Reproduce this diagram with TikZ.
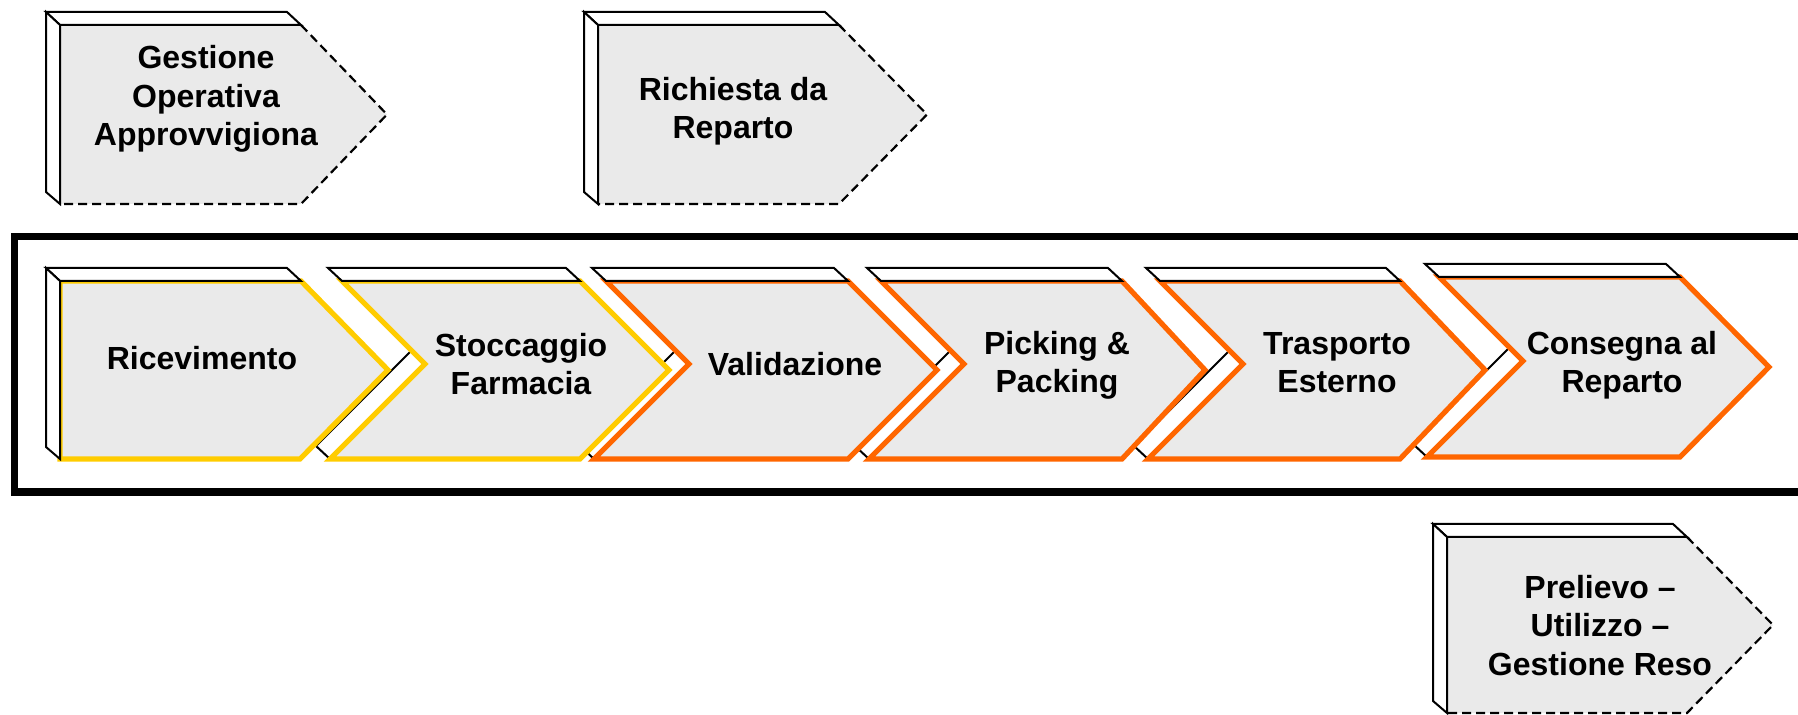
\documentclass[tikz,border=0pt]{standalone}
\usepackage{fontspec}
\setmainfont{Liberation Sans}
\definecolor{cyel}{RGB}{255,204,0}
\definecolor{corg}{RGB}{255,102,0}
\definecolor{cgray}{RGB}{234,234,234}
\tikzset{
  frontface/.style={fill=cgray,line width=2.6pt,line join=miter},
  stripface/.style={fill=white,draw=black,line width=1pt,line join=miter},
  dashedge/.style={draw=black,line width=1.1pt,dash pattern=on 4.5pt off 2.5pt},
  lbl/.style={font=\bfseries\fontsize{16}{19.25}\selectfont,align=center,anchor=base,inner sep=0pt},
  frameline/.style={draw=black,line width=3.6pt}
}
% #1 TL x, #2 right x, #3 tip x, #4 top y, #5 bottom y, #6 colour
\newcommand\mychev[6]{%
  \pgfmathsetmacro\cM{(#4+#5)/2}%
  \pgfmathsetmacro\cN{\cM-6}%
  \pgfmathsetmacro\cXN{#1+\cN-#4}%
  \pgfmathsetmacro\cBL{\cXN-(#5-\cN)}%
  \path[stripface] (\cXN-14,\cN-13) -- (\cBL-14,#5-13) -- (\cBL,#5) -- (\cXN,\cN) -- cycle;
  \path[frontface,draw=#6] (#1,#4) -- (#2,#4) -- (#3,\cM) -- (#2,#5) -- (\cBL,#5) -- (\cXN,\cN) -- cycle;
  \path[stripface] (#1-14,#4-13) -- (#2-14,#4-13) -- (#2,#4) -- (#1,#4) -- cycle;
}
% #1 left x, #2 right x, #3 tip x, #4 top y, #5 bottom y
\newcommand\mydash[5]{%
  \pgfmathsetmacro\cM{(#4+#5)/2}%
  \fill[cgray] (#1,#4) -- (#2,#4) -- (#3,\cM) -- (#2,#5) -- (#1,#5) -- cycle;
  \path[dashedge] (#2,#4) -- (#3,\cM) -- (#2,#5) -- (#1,#5);
  \path[stripface] (#1-14,#4-13) -- (#2-14,#4-13) -- (#2,#4) -- (#1,#4) -- cycle;
  \path[stripface] (#1-14,#4-13) -- (#1,#4) -- (#1,#5) -- (#1-14,#5-12) -- cycle;
}
\begin{document}
\begin{tikzpicture}[x=0.5pt,y=-0.5pt]
\useasboundingbox (0,0) rectangle (1798,715);
\clip (0,0) rectangle (1798,715);

% outer frame
\draw[frameline] (14.5,236.5) rectangle (1840,492);

% top and bottom dashed boxes
\mydash{60}{301}{387}{25}{204}
\mydash{598}{839}{927}{25}{204}
\mydash{1447}{1687}{1773}{537}{713}

% chevrons, right to left
\mychev{1439}{1680}{1769}{277}{457}{corg}
\mychev{1160}{1400}{1485}{281}{459}{corg}
\mychev{881}{1122}{1205}{281}{459}{corg}
\mychev{606}{848}{937}{281}{459}{corg}
\mychev{342}{580}{669}{281}{459}{cyel}

% first chevron (pentagon)
\path[frontface,draw=cyel] (60,281) -- (301,281) -- (388,370) -- (300,459) -- (60,459) -- cycle;
\path[stripface] (46,268) -- (287,268) -- (301,281) -- (60,281) -- cycle;
\path[stripface] (46,268) -- (60,281) -- (60,459) -- (46,447) -- cycle;

% labels (base = baseline of the last line)
\node[lbl] (gest) at (206,146) {Gestione\\Operativa\\Approvvigiona};
\node[lbl] (rich) at (733,139) {Richiesta da\\Reparto};
\node[lbl] (prel) at (1600,675) {Prelievo –\\Utilizzo –\\Gestione Reso};
\node[lbl] (ricev) at (202,370) {Ricevimento};
\node[lbl] (stocc) at (521,395) {Stoccaggio\\Farmacia};
\node[lbl] (valid) at (795,376) {Validazione};
\node[lbl] (pick) at (1057,393) {Picking \&\\Packing};
\node[lbl] (trasp) at (1337,393) {Trasporto\\Esterno};
\node[lbl] (cons) at (1622,393) {Consegna al\\Reparto};
\end{tikzpicture}
\end{document}
